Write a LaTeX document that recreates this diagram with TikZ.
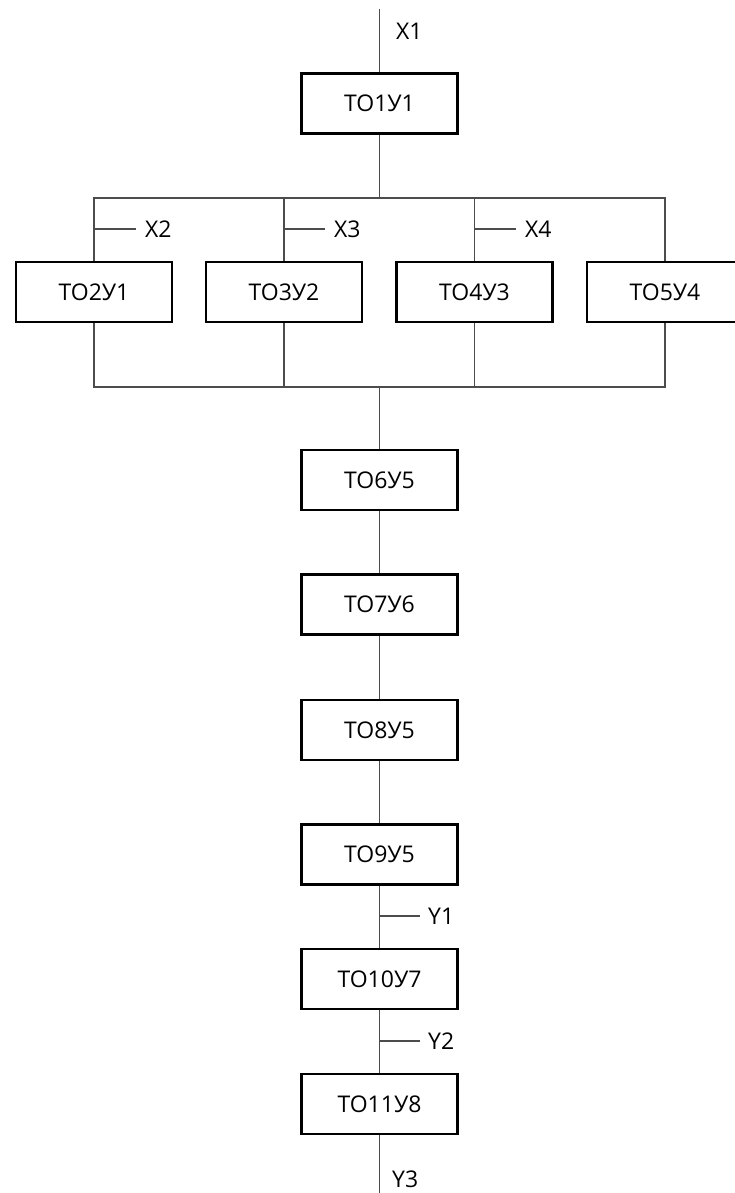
\documentclass[tikz,border=0pt]{standalone}
\usepackage{fontspec}
\setmainfont{Open Sans}
\begin{document}
\begin{tikzpicture}[x=1pt,y=-1pt,
  box/.style={draw=black,line width=2.8pt,fill=white,minimum width=156pt,minimum height=60pt,inner sep=0pt,font=\fontsize{23}{23}\selectfont},
  wire/.style={draw=black!70,line width=1.5pt},
  lbl/.style={anchor=west,inner sep=0pt,font=\fontsize{23}{23}\selectfont}]
\useasboundingbox (0,0) rectangle (734,1193);
% boxes
\node[box] (t1) at (379.5,103.5) {ТО1У1};
\node[box] (t2) at (94,292) {ТО2У1};
\node[box] (t3) at (284,292) {ТО3У2};
\node[box] (t4) at (474.5,292) {ТО4У3};
\node[box] (t5) at (665,292) {ТО5У4};
\node[box] (t6) at (379.5,480) {ТО6У5};
\node[box] (t7) at (379.5,604.5) {ТО7У6};
\node[box] (t8) at (379.5,730) {ТО8У5};
\node[box] (t9) at (379.5,854.5) {ТО9У5};
\node[box] (t10) at (379.5,979) {ТО10У7};
\node[box] (t11) at (379.5,1104) {ТО11У8};
% labels
\node[lbl] (X1) at (396,31) {X1};
\node[lbl] (X2) at (145,229) {X2};
\node[lbl] (X3) at (334,229) {X3};
\node[lbl] (X4) at (525,229) {X4};
\node[lbl] (Y1) at (428,916) {Y1};
\node[lbl] (Y2) at (428,1041) {Y2};
\node[lbl] (Y3) at (392,1179) {Y3};
% coordinates
\coordinate (in) at (379.5,9);
\coordinate (out) at (379.5,1193);
\coordinate (busT) at (379.5,198);
\coordinate (busB) at (379.5,387);
% main connectors
\draw[wire] (in) -- (t1.north);
\draw[wire] (t1.south) -- (busT);
\draw[wire] (t2.north) |- (busT);
\draw[wire] (t5.north) |- (busT);
\draw[wire] (t3.north) -- (t3.north |- busT);
\draw[wire] (t4.north) -- (t4.north |- busT);
\draw[wire] (t2.south) |- (busB);
\draw[wire] (t5.south) |- (busB);
\draw[wire] (t3.south) -- (t3.south |- busB);
\draw[wire] (t4.south) -- (t4.south |- busB);
\draw[wire] (busB) -- (t6.north);
\draw[wire] (t6) -- (t7);
\draw[wire] (t7) -- (t8);
\draw[wire] (t8) -- (t9);
\draw[wire] (t9) -- (t10);
\draw[wire] (t10) -- (t11);
\draw[wire] (t11.south) -- (out);
% input/output ticks
\draw[wire] (t2.north |- X2) -- ([xshift=-9pt]X2.west);
\draw[wire] (t3.north |- X3) -- ([xshift=-9pt]X3.west);
\draw[wire] (t4.north |- X4) -- ([xshift=-9pt]X4.west);
\draw[wire] (t9.south |- Y1) -- ([xshift=-8pt]Y1.west);
\draw[wire] (t10.south |- Y2) -- ([xshift=-8pt]Y2.west);
\end{tikzpicture}
\end{document}
